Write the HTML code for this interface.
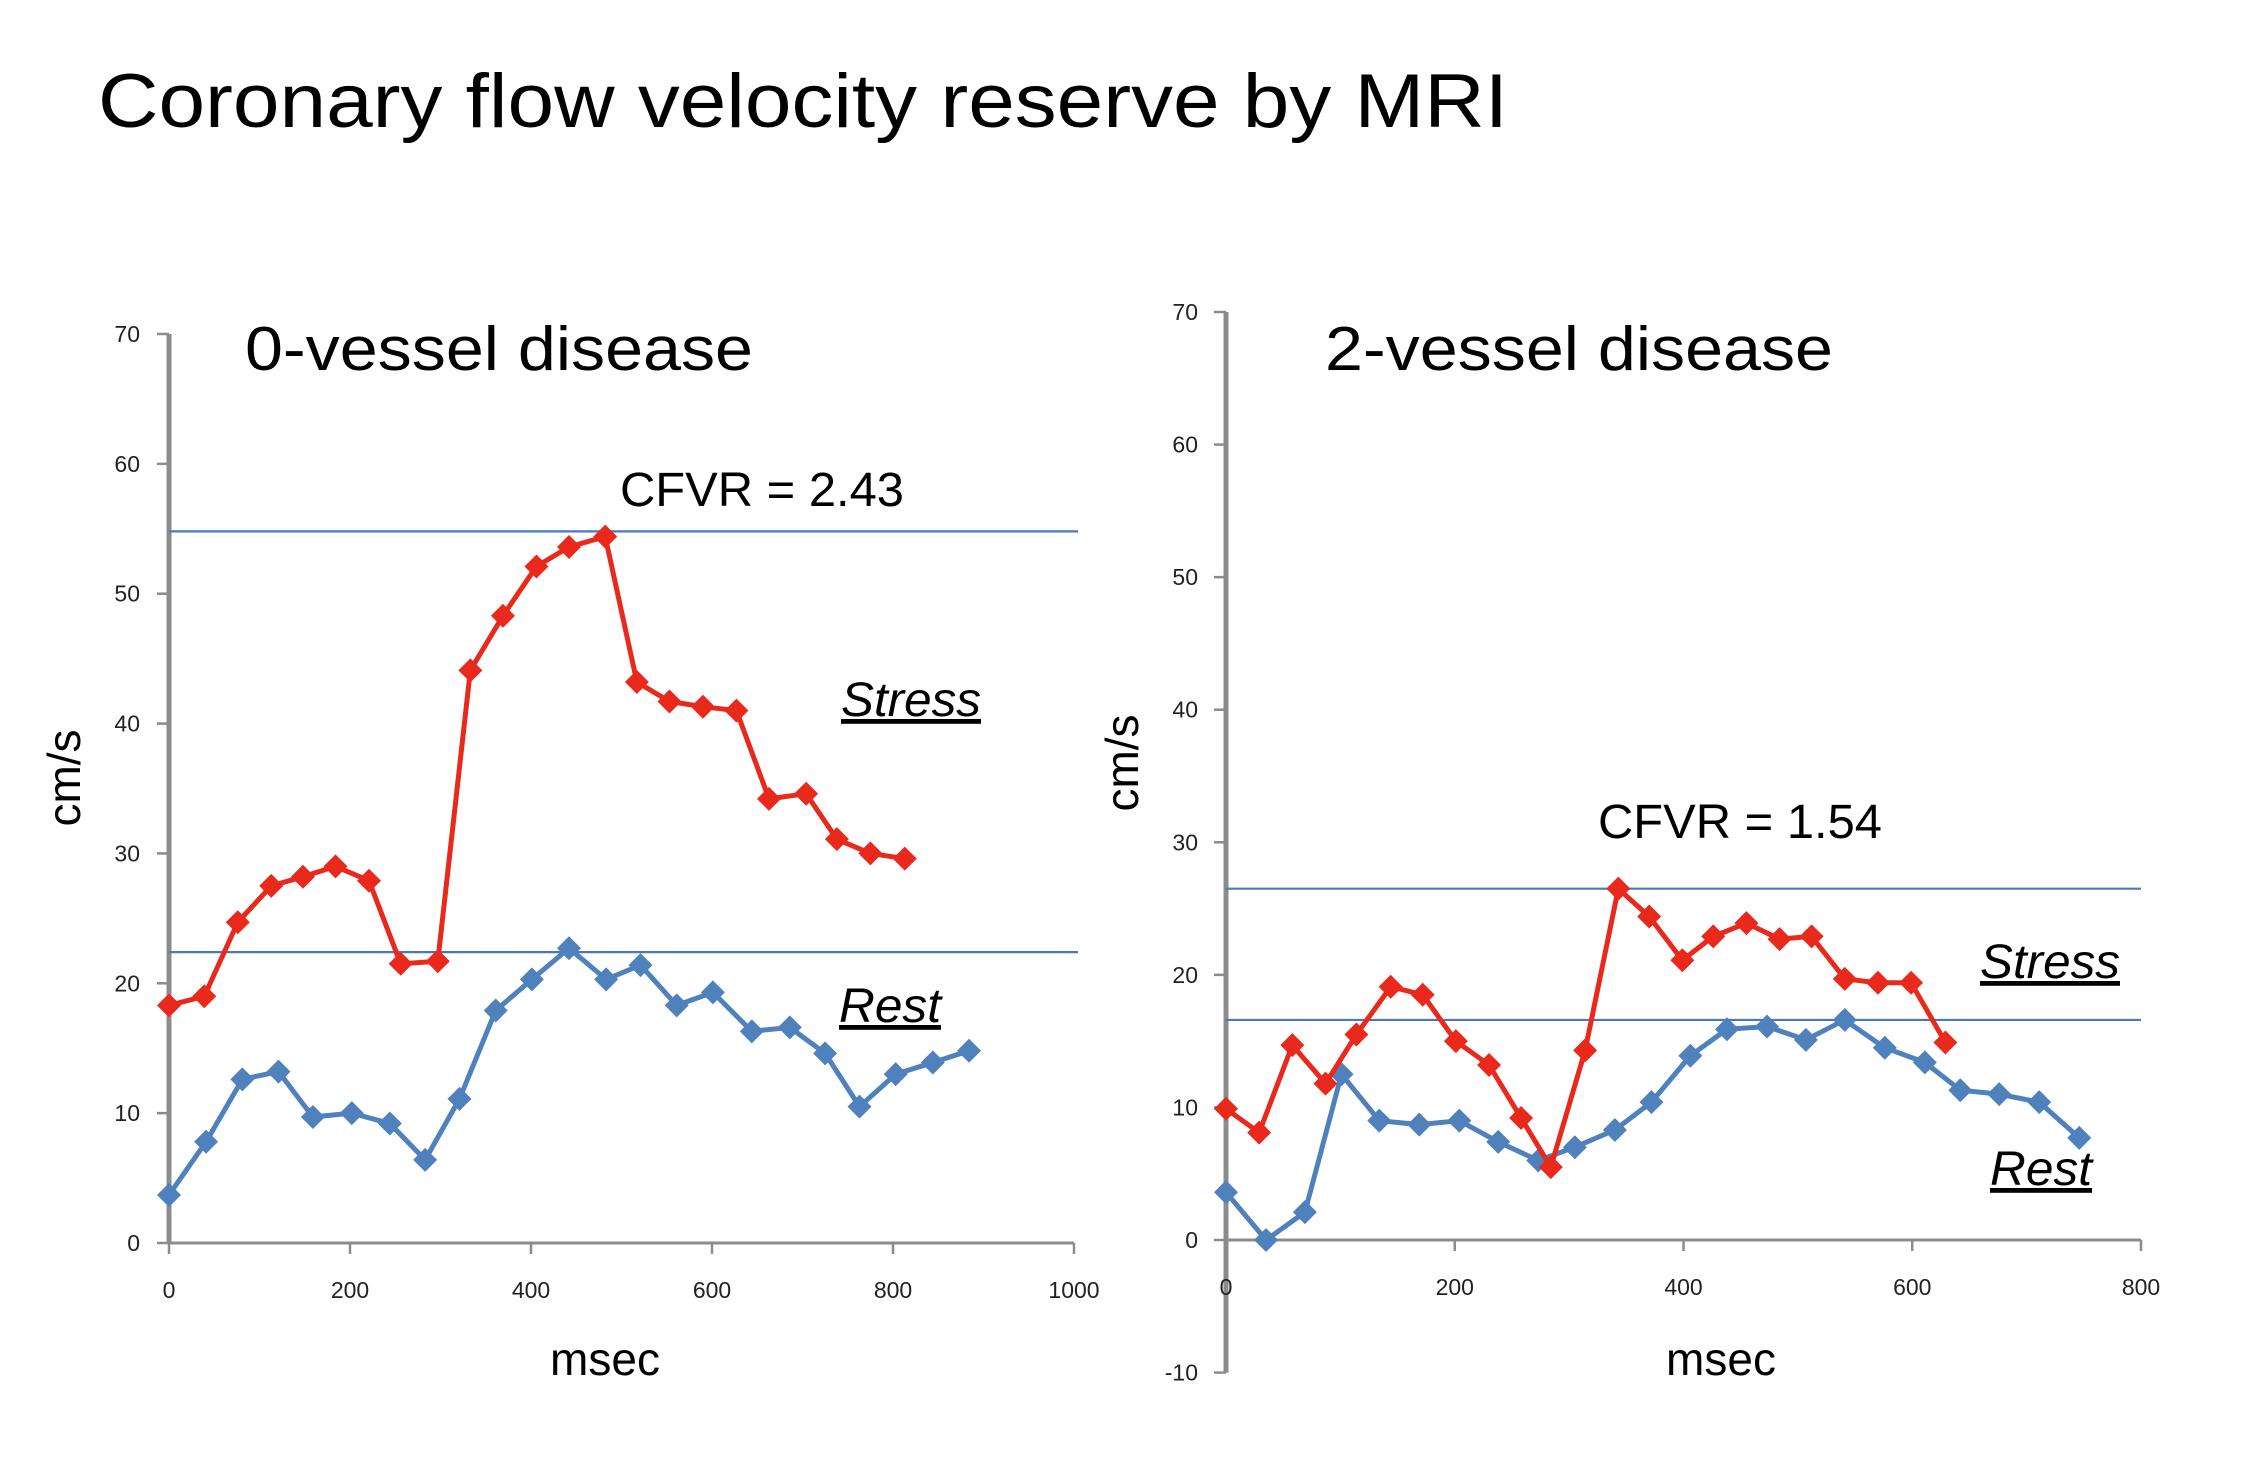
<!DOCTYPE html>
<html><head><meta charset="utf-8"><style>
html,body{margin:0;padding:0;background:#fff;}
svg{display:block;font-family:"Liberation Sans",sans-serif;}
</style></head><body>
<svg id="s" width="2254" height="1484" viewBox="0 0 2254 1484" xmlns="http://www.w3.org/2000/svg">
<text x="98" y="127" font-size="76" fill="#000" textLength="1410" lengthAdjust="spacingAndGlyphs">Coronary flow velocity reserve by MRI</text>
<g id="c1"></g>
<g id="c2"></g>
</svg>
<script>
const NS='http://www.w3.org/2000/svg';
// Chart 1 data
const s1X=[0,39,76,113,148,184,221,256,297,333,369,406,442,482,517,553,590,627,663,704,738,775,813];
const s1Y=[18.3,19.0,24.7,27.5,28.2,29.0,27.9,21.5,21.7,44.1,48.3,52.1,53.6,54.4,43.2,41.7,41.3,41.0,34.2,34.6,31.1,30.0,29.6];
const r1X=[0,41,81,121,159,202,244,283,321,361,401,442,483,521,561,601,644,686,725,763,803,844,884];
const r1Y=[3.7,7.8,12.6,13.2,9.7,10.0,9.2,6.4,11.1,17.9,20.3,22.7,20.3,21.4,18.3,19.3,16.3,16.6,14.6,10.5,13.0,13.9,14.8];
const ref1=[54.8,22.4];
const yTicks1=[0,10,20,30,40,50,60,70];
const xTicks1=[0,200,400,600,800,1000];
// Chart 2 data
const s2X=[0,29,58,87,114,144,172,201,230,258,284,314,343,370,399,426,455,484,512,541,570,599,629];
const s2Y=[9.9,8.1,14.7,11.8,15.5,19.1,18.5,15.0,13.2,9.2,5.5,14.3,26.5,24.4,21.1,22.9,23.9,22.7,22.9,19.7,19.4,19.4,14.9];
const r2X=[0,35,69,101,134,169,204,238,273,305,340,372,406,438,473,507,541,576,611,642,676,711,746];
const r2Y=[3.6,0,2.1,12.5,9.0,8.7,9.0,7.4,6.0,7.0,8.3,10.4,13.9,15.9,16.1,15.1,16.6,14.5,13.4,11.3,11.0,10.4,7.7];
const ref2=[26.5,16.6];
const yTicks2=[-10,0,10,20,30,40,50,60,70];
const xTicks2=[0,200,400,600,800];

function el(p,t,a,txt){const e=document.createElementNS(NS,t);for(const k in a)e.setAttribute(k,a[k]);if(txt!==undefined)e.textContent=txt;p.appendChild(e);return e;}

function chart(g,cfg){
  const sx=v=>cfg.x0+(v-0)*(cfg.x1-cfg.x0)/cfg.xmax;
  const sy=v=>cfg.y0-(v)*(cfg.y0-cfg.y70)/70;
  let a=el(g,'line',{x1:sx(0),x2:sx(0),y1:sy(70),y2:sy(cfg.ymin),stroke:'#8c8c8c','stroke-width':5});
  
  
  a=el(g,'line',{x1:sx(0),x2:sx(cfg.xmax),y1:sy(0),y2:sy(0),stroke:'#8c8c8c','stroke-width':3});
  
  
  cfg.yTicks.forEach(t=>{
    el(g,'line',{x1:sx(0)-12,x2:sx(0),y1:sy(t),y2:sy(t),stroke:'#8c8c8c','stroke-width':2.5});
    const tx=el(g,'text',{x:cfg.ytx,y:sy(t)+8,'font-size':23,'text-anchor':'end',fill:'#222'},String(t));
    
    
  });
  cfg.xTicks.forEach(t=>{
    el(g,'line',{x1:sx(t),x2:sx(t),y1:sy(0),y2:sy(0)+11,stroke:'#8c8c8c','stroke-width':2.5});
    const tx=el(g,'text',{x:sx(t),y:cfg.xty,'font-size':23,'text-anchor':'middle',fill:'#222'},String(t));
    
    
  });
  cfg.refs.forEach(r=>{
    const l=el(g,'line',{x1:sx(0),x2:cfg.refEnd,y1:sy(r),y2:sy(r),stroke:'#4a76c4','stroke-width':2.2});
    
    
  });
  function series(X,Y,col,name){
    const pts=X.map((x,i)=>sx(x)+','+sy(Y[i])).join(' ');
    const pl=el(g,'polyline',{points:pts,fill:'none',stroke:col,'stroke-width':5,'stroke-linejoin':'round'});
    
    
    X.forEach((x,i)=>{
      const cx=sx(x),cy=sy(Y[i]),r=12;
      const m=el(g,'polygon',{points:`${cx},${cy-r} ${cx+r},${cy} ${cx},${cy+r} ${cx-r},${cy}`,fill:col});
      
      
    });
  }
  series(cfg.rX,cfg.rY,'#4f81bd','rest');
  series(cfg.sX,cfg.sY,'#e8291c','stress');
}

const g1=document.getElementById('c1'),g2=document.getElementById('c2');
chart(g1,{x0:169,x1:1074,xmax:1000,y0:1243,y70:334,ymin:0,ytx:140,xty:1298,yTicks:yTicks1,xTicks:xTicks1,refs:ref1,refEnd:1078,sX:s1X,sY:s1Y,rX:r1X,rY:r1Y});
chart(g2,{x0:1226,x1:2141,xmax:800,y0:1240,y70:312,ymin:-10,ytx:1198,xty:1295,yTicks:yTicks2,xTicks:xTicks2,refs:ref2,refEnd:2141,sX:s2X,sY:s2Y,rX:r2X,rY:r2Y});

function lbl(g,x,y,size,txt,name,extra){
  const a=Object.assign({x:x,y:y,'font-size':size,fill:'#000'},extra||{});
  const t=el(g,'text',a,txt);
  
  
  return t;
}
lbl(g1,245,370,62,'0-vessel disease','chart-title',{textLength:508,lengthAdjust:'spacingAndGlyphs'});
lbl(g2,1325,370,62,'2-vessel disease','chart-title',{textLength:508,lengthAdjust:'spacingAndGlyphs'});
lbl(g1,620,506,48,'CFVR = 2.43','cfvr-label',{textLength:284,lengthAdjust:'spacingAndGlyphs'});
lbl(g2,1598,838,48,'CFVR = 1.54','cfvr-label',{textLength:284,lengthAdjust:'spacingAndGlyphs'});
lbl(g1,841,716,48,'Stress','stress-label',{'font-style':'italic','text-decoration':'underline',textLength:140,lengthAdjust:'spacingAndGlyphs'});
lbl(g1,839,1022,48,'Rest','rest-label',{'font-style':'italic','text-decoration':'underline',textLength:102,lengthAdjust:'spacingAndGlyphs'});
lbl(g2,1980,978,48,'Stress','stress-label',{'font-style':'italic','text-decoration':'underline',textLength:140,lengthAdjust:'spacingAndGlyphs'});
lbl(g2,1990,1185,48,'Rest','rest-label',{'font-style':'italic','text-decoration':'underline',textLength:102,lengthAdjust:'spacingAndGlyphs'});
lbl(g1,605,1375,46,'msec','x-axis-title',{'text-anchor':'middle'});
lbl(g2,1721,1375,46,'msec','x-axis-title',{'text-anchor':'middle'});
lbl(g1,0,0,46,'cm/s','y-axis-title',{'text-anchor':'middle',transform:'translate(80,778) rotate(-90)'});
lbl(g2,0,0,46,'cm/s','y-axis-title',{'text-anchor':'middle',transform:'translate(1138,763) rotate(-90)'});
</script>
</body></html>
